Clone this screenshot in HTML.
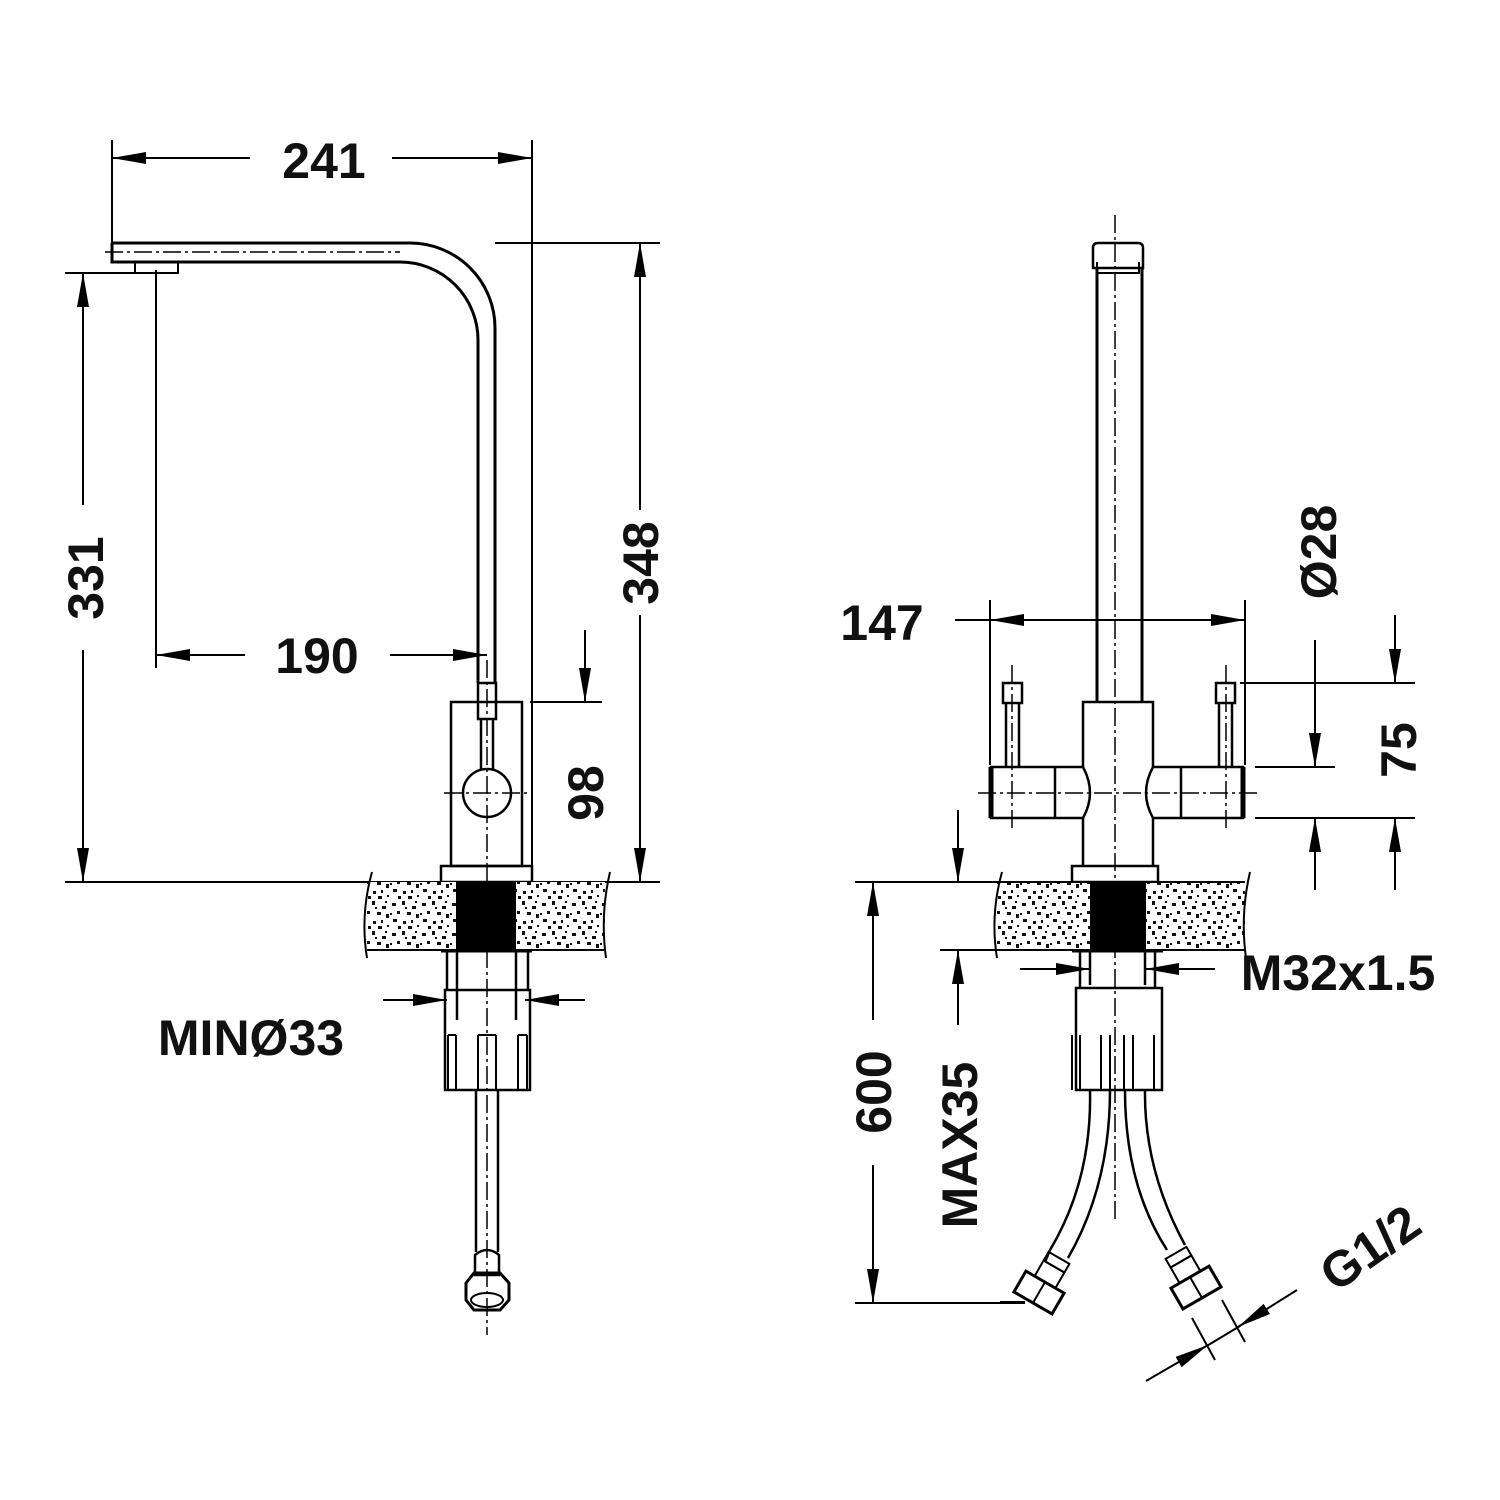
<!DOCTYPE html>
<html><head><style>
html,body{margin:0;padding:0;background:#fff}
svg{display:block}
text{font-family:"Liberation Sans",Arial,sans-serif;font-weight:bold;font-size:50px;fill:#111}
</style></head><body>
<svg width="1500" height="1500" viewBox="0 0 1500 1500" xmlns="http://www.w3.org/2000/svg">
<defs>
<pattern id="sp" width="30" height="30" patternUnits="userSpaceOnUse">
<rect width="30" height="30" fill="#fff"/>
<g fill="#111">
<rect x="2" y="3" width="4" height="3"/><rect x="12" y="1" width="3" height="4"/><rect x="22" y="6" width="4" height="3"/>
<rect x="7" y="11" width="3" height="3"/><rect x="17" y="12" width="4" height="3"/><rect x="26" y="14" width="3" height="4"/>
<rect x="3" y="19" width="4" height="3"/><rect x="13" y="21" width="3" height="3"/><rect x="21" y="20" width="2" height="3"/>
<rect x="8" y="26" width="3" height="3"/><rect x="18" y="26" width="4" height="3"/><rect x="27" y="25" width="2" height="2"/>
<rect x="0" y="13" width="2" height="2"/><rect x="15" y="7" width="2" height="2"/><rect x="25" y="1" width="2" height="2"/>
</g>
</pattern>
<marker id="a" viewBox="0 0 34 12" refX="34" refY="6" markerWidth="34" markerHeight="12" markerUnits="userSpaceOnUse" orient="auto-start-reverse"><path d="M0,0L34,6L0,12z" fill="#000"/></marker>
</defs>
<g stroke="#000" fill="none" stroke-width="2">
<line x1="112" y1="140" x2="112" y2="245"/>
<line x1="532" y1="140" x2="532" y2="865"/>
<line x1="112" y1="158" x2="250" y2="158" marker-start="url(#a)"/>
<line x1="392" y1="158" x2="532" y2="158" marker-end="url(#a)"/>
<line x1="495" y1="243" x2="660" y2="243"/>
<line x1="640" y1="243" x2="640" y2="510" marker-start="url(#a)"/>
<line x1="640" y1="615" x2="640" y2="882" marker-end="url(#a)"/>
<line x1="65" y1="273" x2="178" y2="273"/>
<line x1="83" y1="273" x2="83" y2="505" marker-start="url(#a)"/>
<line x1="83" y1="650" x2="83" y2="882" marker-end="url(#a)"/>
<line x1="156" y1="270" x2="156" y2="668"/>
<line x1="156" y1="655" x2="245" y2="655" marker-start="url(#a)"/>
<line x1="390" y1="655" x2="487" y2="655" marker-end="url(#a)"/>
<line x1="530" y1="702" x2="602" y2="702"/>
<line x1="585" y1="630" x2="585" y2="702" marker-end="url(#a)"/>
<line x1="585" y1="950" x2="585" y2="882" marker-end="url(#a)"/>
<line x1="65" y1="882" x2="660" y2="882"/>
<line x1="383" y1="1000" x2="447" y2="1000" marker-end="url(#a)"/>
<line x1="585" y1="1000" x2="525" y2="1000" marker-end="url(#a)"/>
<path d="M112,243 L410,243 A85,85 0 0 1 495,328 L495,683" stroke-width="3"/>
<path d="M112,243 L112,262 L400,262 A78,78 0 0 1 478,340 L478,683" stroke-width="3"/>
<path d="M135,262 L135,273 L178,273 L178,262"/>
<line x1="105" y1="252" x2="400" y2="252" stroke-dasharray="18,4,3,4" stroke-width="1.5"/>
<rect x="478" y="683" width="18" height="36" stroke-width="2.5"/>
<line x1="481" y1="719" x2="481" y2="770" stroke-width="2.5"/>
<line x1="493" y1="719" x2="493" y2="770" stroke-width="2.5"/>
<rect x="451" y="702" width="71" height="164" stroke-width="2.5"/>
<circle cx="487" cy="793" r="24" stroke-width="2.5"/>
<line x1="444" y1="793" x2="530" y2="793" stroke-dasharray="18,4,3,4" stroke-width="1.5"/>
<line x1="487" y1="660" x2="487" y2="1335" stroke-dasharray="18,4,3,4" stroke-width="1.5"/>
<rect x="441" y="866" width="91" height="16" stroke-width="2.5"/>
<rect x="367" y="882" width="238" height="68" fill="url(#sp)" stroke="none"/>
<line x1="367" y1="950" x2="605" y2="950"/>
<path d="M372,872 Q360,915 367,958"/><path d="M610,872 Q600,915 606,958"/>
<rect x="456" y="882" width="60" height="68" fill="#000" stroke="none"/>
<line x1="441" y1="951" x2="532" y2="951" stroke-width="3"/>
<line x1="447" y1="951" x2="447" y2="990" stroke-width="2.5"/><line x1="528" y1="951" x2="528" y2="990" stroke-width="2.5"/>
<line x1="457" y1="951" x2="457" y2="1020" stroke-width="2.5"/><line x1="516" y1="951" x2="516" y2="1020" stroke-width="2.5"/>
<path d="M445,990 L530,990 L530,1090 L445,1090 Z" stroke-width="2.5"/>
<path d="M448,1035 v55 M456,1035 v55 M478,1035 v55 M496,1035 v55 M518,1035 v55 M527,1035 v55 M448,1035 h8 M478,1035 h18 M518,1035 h9" stroke-width="2"/>
<line x1="476" y1="1090" x2="476" y2="1252" stroke-width="2.5"/><line x1="498" y1="1090" x2="498" y2="1252" stroke-width="2.5"/>
<path d="M475,1255 Q487,1245 499,1255 L499,1275 L475,1275 Z" stroke-width="2.5"/>
<path d="M466,1283 L474,1273 L500,1273 L509,1283 L509,1300 L500,1310 L474,1310 L466,1300 Z" stroke-width="3"/>
<ellipse cx="487" cy="1300" rx="16" ry="7" stroke-width="2"/>
<line x1="1115" y1="215" x2="1115" y2="1220" stroke-dasharray="18,4,3,4" stroke-width="1.5"/>
<path d="M1093,268 L1093,248 Q1093,243 1098,243 L1138,243 Q1143,243 1143,248 L1143,268 Z" stroke-width="2.5"/>
<path d="M1097,262 L1097,273 L1139,273 L1139,262" stroke-width="2"/>
<line x1="1097" y1="268" x2="1097" y2="702" stroke-width="3"/>
<line x1="1142" y1="268" x2="1142" y2="702" stroke-width="3"/>
<path d="M1083,767 L1083,702 L1153,702 L1153,767 M1083,818 L1083,866 M1153,818 L1153,866" stroke-width="2.5"/>
<path d="M991,767 L1083,767 Q1097,793 1083,818 L991,818 Z" stroke-width="2.5"/>
<path d="M1243,767 L1153,767 Q1139,793 1153,818 L1243,818 Z" stroke-width="2.5"/>
<line x1="991" y1="767" x2="991" y2="818" stroke-width="5"/><line x1="1243" y1="767" x2="1243" y2="818" stroke-width="5"/>
<line x1="1055" y1="767" x2="1055" y2="818" stroke-width="2.5"/><line x1="1181" y1="767" x2="1181" y2="818" stroke-width="2.5"/>
<rect x="1003" y="683" width="19" height="20" stroke-width="2.5"/><line x1="1006" y1="703" x2="1006" y2="767" stroke-width="2.5"/><line x1="1019" y1="703" x2="1019" y2="767" stroke-width="2.5"/>
<rect x="1216" y="683" width="19" height="20" stroke-width="2.5"/><line x1="1219" y1="703" x2="1219" y2="767" stroke-width="2.5"/><line x1="1232" y1="703" x2="1232" y2="767" stroke-width="2.5"/>
<line x1="1012" y1="665" x2="1012" y2="830" stroke-dasharray="18,4,3,4" stroke-width="1.5"/>
<line x1="1226" y1="665" x2="1226" y2="830" stroke-dasharray="18,4,3,4" stroke-width="1.5"/>
<line x1="978" y1="793" x2="1258" y2="793" stroke-dasharray="18,4,3,4" stroke-width="1.5"/>
<rect x="1072" y="866" width="86" height="16" stroke-width="2.5"/>
<line x1="990" y1="600" x2="990" y2="765"/><line x1="1245" y1="600" x2="1245" y2="765"/>
<line x1="955" y1="620" x2="1245" y2="620" marker-end="url(#a)"/>
<line x1="1100" y1="620" x2="990" y2="620" marker-end="url(#a)"/>
<line x1="1240" y1="683" x2="1415" y2="683"/>
<line x1="1255" y1="767" x2="1335" y2="767"/>
<line x1="1255" y1="818" x2="1415" y2="818"/>
<line x1="1395" y1="615" x2="1395" y2="683" marker-end="url(#a)"/>
<line x1="1395" y1="890" x2="1395" y2="818" marker-end="url(#a)"/>
<line x1="1315" y1="640" x2="1315" y2="767" marker-end="url(#a)"/>
<line x1="1315" y1="890" x2="1315" y2="818" marker-end="url(#a)"/>
<rect x="997" y="882" width="248" height="68" fill="url(#sp)" stroke="none"/>
<line x1="855" y1="882" x2="1245" y2="882"/>
<line x1="940" y1="950" x2="1245" y2="950"/>
<path d="M1002,872 Q990,915 997,958"/><path d="M1250,872 Q1240,915 1246,958"/>
<rect x="1090" y="882" width="56" height="68" fill="#000" stroke="none"/>
<line x1="1072" y1="951" x2="1163" y2="951" stroke-width="3"/>
<line x1="958" y1="810" x2="958" y2="882" marker-end="url(#a)"/>
<line x1="958" y1="1025" x2="958" y2="950" marker-end="url(#a)"/>
<line x1="873" y1="882" x2="873" y2="1020" marker-start="url(#a)"/>
<line x1="873" y1="1165" x2="873" y2="1303" marker-end="url(#a)"/>
<line x1="855" y1="1303" x2="1025" y2="1303"/>
<line x1="1080" y1="951" x2="1080" y2="988" stroke-width="2.5"/><line x1="1155" y1="951" x2="1155" y2="988" stroke-width="2.5"/>
<line x1="1090" y1="951" x2="1090" y2="985" stroke-width="2.5"/><line x1="1145" y1="951" x2="1145" y2="985" stroke-width="2.5"/>
<line x1="1020" y1="969" x2="1090" y2="969" marker-end="url(#a)"/>
<line x1="1215" y1="969" x2="1145" y2="969" marker-end="url(#a)"/>
<rect x="1076" y="988" width="86" height="102" stroke-width="2.5"/>
<path d="M1072,1035 v55 M1080,1035 v55 M1101,1035 v55 M1110,1035 v55 M1124,1035 v55 M1133,1035 v55 M1154,1035 v55 M1162,1035 v55" stroke-width="2"/>
<path d="M1090,1090 Q1092,1180 1050,1250 L1045,1262" stroke-width="2.5"/>
<path d="M1110,1090 Q1110,1185 1068,1258" stroke-width="2.5"/>
<path d="M1125,1090 Q1125,1185 1167,1250" stroke-width="2.5"/>
<path d="M1145,1090 Q1144,1170 1185,1245" stroke-width="2.5"/>
<g transform="translate(1052,1270) rotate(30)"><rect x="-12" y="-14" width="24" height="10"/><rect x="-12" y="-4" width="24" height="18"/><rect x="-22" y="14" width="44" height="24" stroke-width="3"/><line x1="0" y1="14" x2="0" y2="38"/></g>
<g transform="translate(1183,1265) rotate(-30)"><rect x="-12" y="-14" width="24" height="10"/><rect x="-12" y="-4" width="24" height="18"/><rect x="-22" y="14" width="44" height="24" stroke-width="3"/><line x1="0" y1="14" x2="0" y2="38"/></g>
<line x1="1000" y1="1302" x2="1025" y2="1302"/>
<line x1="1192" y1="1318" x2="1215" y2="1360"/>
<line x1="1222" y1="1300" x2="1245" y2="1342"/>
<line x1="1146" y1="1381" x2="1208" y2="1345" marker-end="url(#a)"/>
<line x1="1297" y1="1290" x2="1238" y2="1327" marker-end="url(#a)"/>
<line x1="1205" y1="1347" x2="1240" y2="1326"/>
</g>
<text x="324" y="178" text-anchor="middle">241</text>
<text x="317" y="673" text-anchor="middle">190</text>
<text transform="translate(103,578) rotate(-90)" text-anchor="middle">331</text>
<text transform="translate(658,563) rotate(-90)" text-anchor="middle">348</text>
<text transform="translate(603,793) rotate(-90)" text-anchor="middle">98</text>
<text x="251" y="1055" text-anchor="middle" font-size="46">MINØ33</text>
<text x="882" y="640" text-anchor="middle">147</text>
<text transform="translate(1336,552) rotate(-90)" text-anchor="middle">Ø28</text>
<text transform="translate(1416,750) rotate(-90)" text-anchor="middle">75</text>
<text transform="translate(891,1092) rotate(-90)" text-anchor="middle">600</text>
<text transform="translate(977,1145) rotate(-90)" text-anchor="middle" font-size="46">MAX35</text>
<text x="1338" y="990" text-anchor="middle" font-size="46">M32x1.5</text>
<text transform="translate(1380,1262) rotate(-35)" text-anchor="middle" font-size="46">G1/2</text>
</svg>
</body></html>
